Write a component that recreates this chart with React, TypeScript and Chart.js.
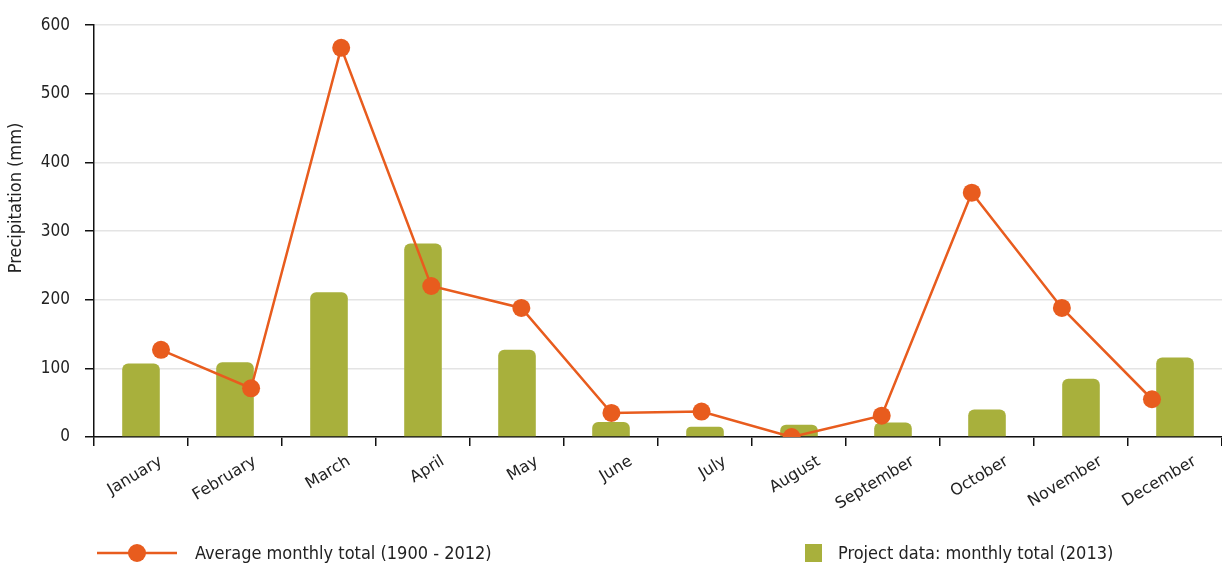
import React, { useEffect, useRef } from "react";
import { Chart, registerables } from "chart.js";

Chart.register(...registerables);

const months = ["January", "February", "March", "April", "May", "June", "July", "August", "September", "October", "November", "December"];
const projectData2013 = [107, 109, 211, 282, 127, 22, 15, 18, 21, 40, 85, 116];
const average1900_2012 = [127, 71, 567, 220, 188, 35, 37, 0, 31, 356, 188, 55];
const yTicks = [0, 100, 200, 300, 400, 500, 600];
const yTitle = "Precipitation (mm)";
const lineLabel = "Average monthly total (1900 - 2012)";
const barLabel = "Project data: monthly total (2013)";

const ORANGE = "#e85c1e";
const GREEN = "#a8b03c";
const COND = "'DejaVu Sans Condensed', 'DejaVu Sans', sans-serif";
const CANVAS_W = 1231;

const decorPlugin = {
  id: "decor",
  afterDraw(chart: any) {
    const ctx = chart.ctx;
    const y = 553;
    ctx.save();
    // legend
    ctx.strokeStyle = ORANGE;
    ctx.lineWidth = 2.5;
    ctx.beginPath();
    ctx.moveTo(97, y);
    ctx.lineTo(177, y);
    ctx.stroke();
    ctx.fillStyle = ORANGE;
    ctx.beginPath();
    ctx.arc(137, y, 9, 0, Math.PI * 2);
    ctx.fill();
    ctx.fillStyle = GREEN;
    ctx.fillRect(805, 544, 17, 18);
    ctx.fillStyle = "#222";
    ctx.font = `18px ${COND}`;
    ctx.textBaseline = "middle";
    ctx.textAlign = "left";
    ctx.fillText(lineLabel, 195, y + 1);
    ctx.fillText(barLabel, 838, y + 1);
    // y axis title
    ctx.translate(16, 198);
    ctx.rotate(-Math.PI / 2);
    ctx.textAlign = "center";
    ctx.font = `18px ${COND}`;
    ctx.fillText(yTitle, 0, 0);
    ctx.restore();
  },
};

export default function App() {
  const ref = useRef<HTMLCanvasElement>(null);
  useEffect(() => {
    document.body.style.margin = "0";
    const chart = new Chart(ref.current!, {
      type: "bar",
      data: {
        labels: months,
        datasets: [
          {
            type: "line",
            label: lineLabel,
            data: average1900_2012.map((v, i) => ({ x: i, y: v })),
            xAxisID: "x2",
            borderColor: ORANGE,
            backgroundColor: ORANGE,
            borderWidth: 2.5,
            pointRadius: 9,
            pointBorderWidth: 0,
            pointBackgroundColor: ORANGE,
            tension: 0,
            order: 0,
          } as any,
          {
            type: "bar",
            label: barLabel,
            data: projectData2013,
            xAxisID: "x",
            grouped: false,
            backgroundColor: GREEN,
            categoryPercentage: 1,
            barPercentage: 0.4,
            borderRadius: { topLeft: 6, topRight: 6, bottomLeft: 0, bottomRight: 0 },
            borderSkipped: "bottom",
            order: 1,
          },
        ],
      },
      options: {
        animation: false,
        responsive: false,
        maintainAspectRatio: false,
        layout: { padding: { top: 24, right: 0, left: 0, bottom: 0 } },
        plugins: { legend: { display: false }, tooltip: { enabled: false } },
        scales: {
          x: {
            type: "category",
            offset: true,
            grid: {
              offset: true,
              drawOnChartArea: false,
              tickColor: "#111",
              tickLength: 9,
              lineWidth: 1.5,
            },
            border: { color: "#111", width: 1.5 },
            ticks: {
              autoSkip: false,
              maxRotation: 31,
              minRotation: 31,
              padding: 6,
              labelOffset: 20,
              color: "#222",
              font: { size: 16, family: "'DejaVu Sans', sans-serif" },
            },
            afterFit(scale: any) {
              scale.height = 131;
            },
          },
          x2: {
            type: "linear",
            display: false,
            offset: false,
            grid: { offset: false },
            min: -0.7437,
            max: 11.7773,
          },
          y: {
            min: 0,
            max: 600,
            afterBuildTicks(scale: any) {
              scale.ticks = yTicks.map((v) => ({ value: v }));
            },
            grid: {
              color: "#e4e4e4",
              tickColor: "#111",
              tickLength: 9,
              lineWidth: 1.5,
            },
            border: { color: "#111", width: 1.5 },
            ticks: {
              padding: 15,
              color: "#222",
              font: { size: 17, family: COND },
            },
            afterFit(scale: any) {
              scale.width = 94;
            },
          },
        },
      },
      plugins: [decorPlugin],
    });
    return () => chart.destroy();
  }, []);
  return (
    <div style={{ position: "fixed", left: 0, top: 0, width: 1222, height: 568, overflow: "hidden", background: "#fff" }}>
      <canvas ref={ref} width={CANVAS_W} height={568} style={{ width: CANVAS_W, height: 568, display: "block" }} />
    </div>
  );
}
